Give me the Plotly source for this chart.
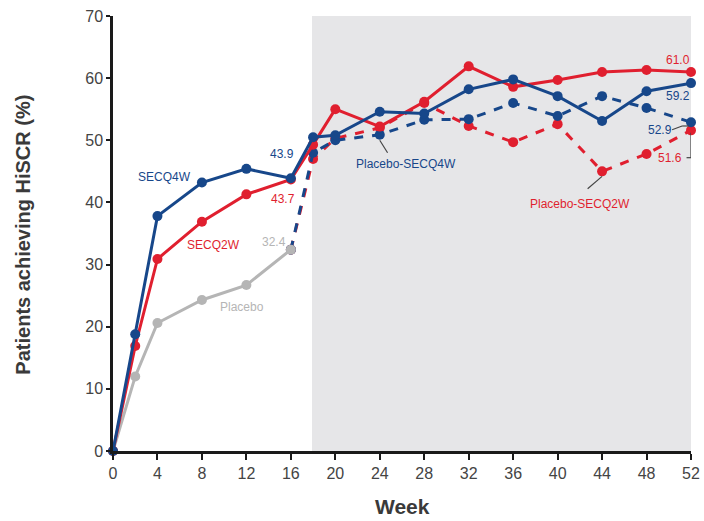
import plotly.graph_objects as go

# ---- data ----
weeks_ind = [0, 2, 4, 8, 12, 16]
weeks_all = [0, 2, 4, 8, 12, 16, 18, 20, 24, 28, 32, 36, 40, 44, 48, 52]
weeks_switch = [16, 18, 20, 24, 28, 32, 36, 40, 44, 48, 52]

secq4w = [0, 18.8, 37.8, 43.2, 45.4, 43.9, 50.5, 50.8, 54.6, 54.3, 58.2, 59.8, 57.1, 53.1, 57.9, 59.2]
secq2w = [0, 16.9, 30.9, 36.9, 41.3, 43.7, 49.3, 55.0, 52.2, 56.2, 61.9, 58.6, 59.7, 61.0, 61.3, 61.0]
placebo = [0, 12.0, 20.6, 24.3, 26.7, 32.4]
placebo_secq4w = [32.4, 48.0, 50.0, 50.9, 53.3, 53.4, 56.0, 53.9, 57.1, 55.2, 52.9]
placebo_secq2w = [32.4, 47.0, 50.3, 52.0, 56.0, 52.3, 49.7, 52.6, 45.0, 47.8, 51.6]

x_ticks = [0, 4, 8, 12, 16, 20, 24, 28, 32, 36, 40, 44, 48, 52]
y_ticks = [0, 10, 20, 30, 40, 50, 60, 70]

BLUE = "#17478a"
RED = "#e01f2f"
GREY = "#b5b5b5"
FONT = "Liberation Sans, Arial, sans-serif"

fig = go.Figure()

def add(x, y, color, dash="solid"):
    fig.add_trace(go.Scatter(
        x=x, y=y, mode="lines+markers",
        line=dict(color=color, width=3, dash=dash),
        marker=dict(color=color, size=10),
        cliponaxis=False, showlegend=False, hoverinfo="skip"))

add(weeks_switch, placebo_secq2w, RED, "dash")
add(weeks_switch, placebo_secq4w, BLUE, "dash")
add(weeks_ind, placebo, GREY)
add(weeks_all, secq2w, RED)
add(weeks_all, secq4w, BLUE)

# shaded open-label period
fig.add_shape(type="rect", xref="x", yref="y", x0=17.9, x1=52.2, y0=0, y1=70,
              fillcolor="#e6e6e8", line=dict(width=0), layer="below")

# leader lines
leaders = [
    ((24.0, 50.0), (24.7, 48.0)),
    ((44.0, 44.2), (42.7, 42.2)),
    ((50.3, 51.7), (51.2, 52.3)),
    ((51.2, 52.3), (51.8, 52.3)),
    ((52.0, 51.2), (52.0, 47.2)),
    ((52.0, 47.2), (51.6, 47.2)),
]
for (x0, y0), (x1, y1) in leaders:
    fig.add_shape(type="line", xref="x", yref="y", x0=x0, y0=y0, x1=x1, y1=y1,
                  line=dict(color="#444444", width=1.2))

labels = [
    ("SECQ4W", 4.6, 44.1, BLUE),
    ("SECQ2W", 9.0, 33.2, RED),
    ("Placebo", 11.6, 23.2, GREY),
    ("43.9", 15.2, 47.8, BLUE),
    ("43.7", 15.3, 40.5, RED),
    ("32.4", 14.5, 33.6, GREY),
    ("Placebo-SECQ4W", 26.4, 46.2, BLUE),
    ("Placebo-SECQ2W", 42.0, 39.8, RED),
    ("61.0", 50.8, 63.0, RED),
    ("59.2", 50.8, 57.2, BLUE),
    ("52.9", 49.2, 51.7, BLUE),
    ("51.6", 50.1, 47.2, RED),
]
for t, x, y, c in labels:
    fig.add_annotation(x=x, y=y, text=t, showarrow=False, xanchor="center", yanchor="middle",
                       font=dict(family=FONT, size=12, color=c))

fig.add_annotation(xref="paper", yref="paper", x=-0.156, y=0.497, text="<b>Patients achieving HiSCR (%)</b>",
                   textangle=-90, showarrow=False, xanchor="center", yanchor="middle",
                   font=dict(family=FONT, size=20, color="#3a3a3a"))
fig.add_annotation(xref="paper", yref="paper", x=0.5, y=-0.127, text="<b>Week</b>",
                   showarrow=False, xanchor="center", yanchor="middle",
                   font=dict(family=FONT, size=21, color="#3a3a3a"))

fig.update_xaxes(range=[0, 52], tickvals=x_ticks, ticktext=[str(v) for v in x_ticks],
                 automargin=False,
                 showgrid=False, zeroline=False, showline=True, linecolor="#1a1a1a", linewidth=2.5,
                 ticks="outside", ticklen=6, tickwidth=2, tickcolor="#1a1a1a",
                 tickfont=dict(family=FONT, size=16, color="#444444"))
fig.update_yaxes(range=[0, 70], tickvals=y_ticks, showgrid=False, zeroline=False,
                 automargin=False,
                 showline=True, linecolor="#1a1a1a", linewidth=2.5,
                 ticks="outside", ticklen=4, tickwidth=2, tickcolor="#1a1a1a",
                 tickfont=dict(family=FONT, size=16, color="#444444"))

fig.update_layout(width=704, height=521, margin=dict(l=113, r=13, t=16, b=70, autoexpand=False),
                  plot_bgcolor="white", paper_bgcolor="white", showlegend=False)

fig.write_html("out.html", config={"displayModeBar": False},
               post_script="document.body.style.margin='0';document.body.style.overflow='hidden';")
